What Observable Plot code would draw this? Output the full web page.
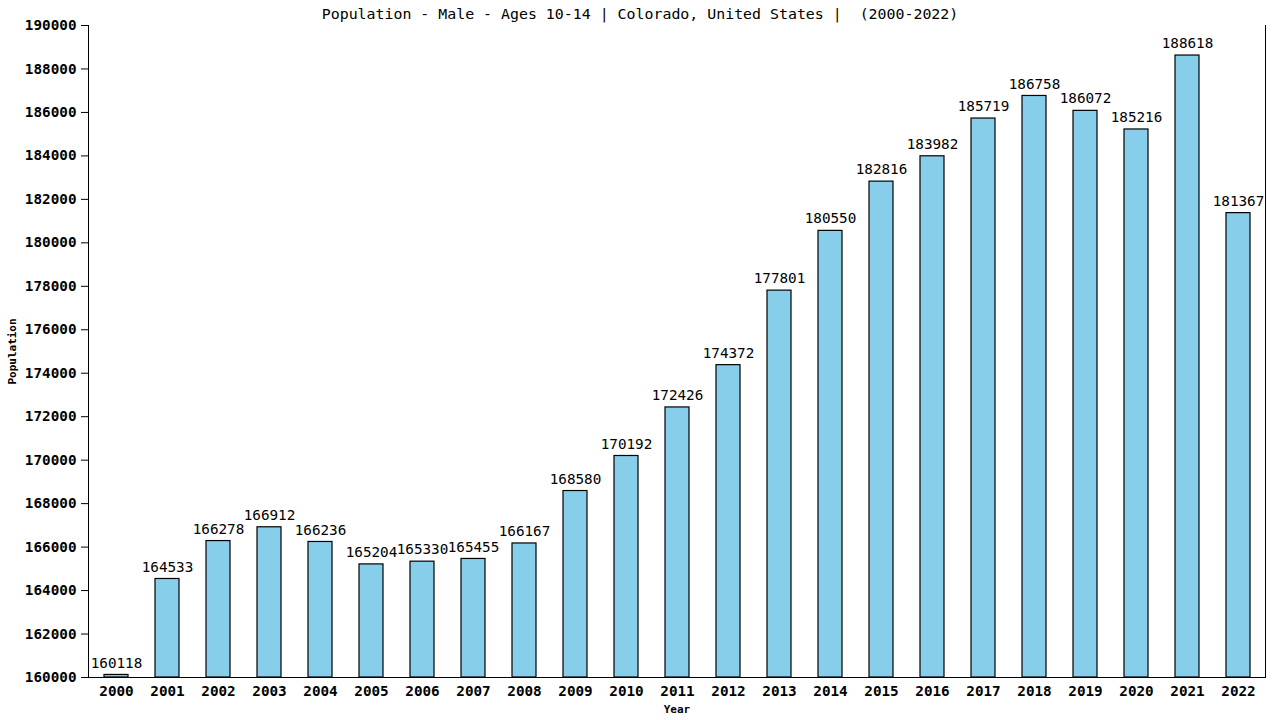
<!DOCTYPE html>
<html><head><meta charset="utf-8">
<script src="https://cdn.jsdelivr.net/npm/d3@7"></script>
<script src="https://cdn.jsdelivr.net/npm/@observablehq/plot@0.6"></script>
<style>body{margin:0;background:#fff;} svg{display:block;}</style>
</head><body><div id="chart"></div>
<script>
const years = ["2000","2001","2002","2003","2004","2005","2006","2007","2008","2009","2010","2011","2012","2013","2014","2015","2016","2017","2018","2019","2020","2021","2022"];
const values = [160118,164533,166278,166912,166236,165204,165330,165455,166167,168580,170192,172426,174372,177801,180550,182816,183982,185719,186758,186072,185216,188618,181367];
const yTicks = d3.range(160000, 190001, 2000);
const titleText = "Population - Male - Ages 10-14 | Colorado, United States |  (2000-2022)";
const data = years.map((y, i) => ({year: y, value: values[i]}));
const font = "DejaVu Sans Mono, monospace";

const plot = Plot.plot({
  width: 1280, height: 720,
  marginLeft: 88, marginRight: 15, marginTop: 25, marginBottom: 43,
  style: {fontFamily: font, fontSize: "14px", color: "#000", background: "#fff"},
  x: {domain: years, paddingInner: 0.53, paddingOuter: 0.265, label: null},
  y: {domain: [160000, 190000], label: null},
  marks: [
    Plot.barY(data, {x: "year", y1: () => 160000, y2: "value", fill: "#87ceeb", stroke: "#000", strokeWidth: 1.2}),
    Plot.text(data, {x: "year", y: "value", text: d => String(d.value), dy: -12, fontSize: 14.3, fill: "#000"}),
    Plot.axisY({ticks: yTicks, tickFormat: d => String(d), tickSize: 7, tickPadding: 5, fontWeight: "bold", fontSize: 14.3, label: null, stroke: "#000"}),
    Plot.axisX({tickSize: 0, tickPadding: 8, fontWeight: "bold", fontSize: 14.3, label: null}),
    Plot.frame({anchor: "left"}),
    Plot.frame({anchor: "bottom"}),
    Plot.frame({anchor: "right"}),
    Plot.text([titleText], {frameAnchor: "top", dx: -37, dy: -17, fontSize: 14.9, fill: "#000"}),
    Plot.text(["Population"], {frameAnchor: "left", textAnchor: "middle", dx: -76, rotate: -90, fontSize: 11, fontWeight: "bold", fill: "#000"}),
    Plot.text(["Year"], {frameAnchor: "bottom", dy: 35, fontSize: 11, fontWeight: "bold", fill: "#000"})
  ]
});
document.getElementById("chart").appendChild(plot);
</script></body></html>
